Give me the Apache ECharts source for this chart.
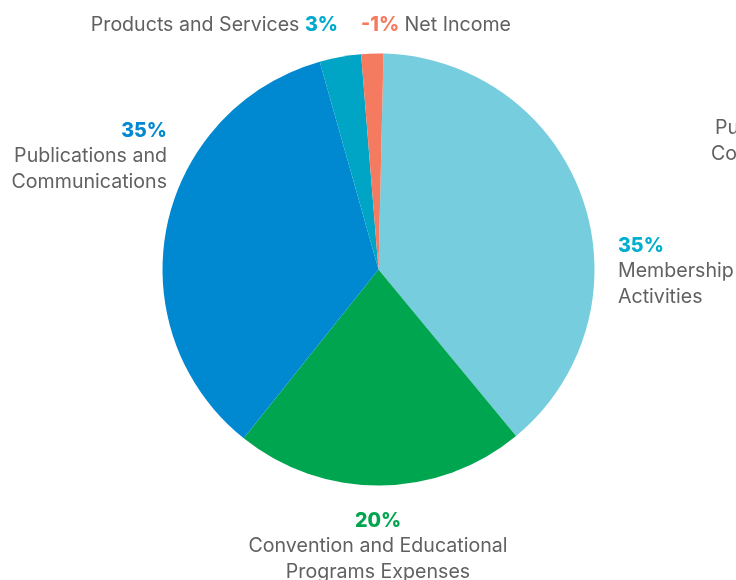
<!DOCTYPE html>
<html>
<head>
<meta charset="utf-8">
<script src="https://cdn.jsdelivr.net/npm/echarts@6/dist/echarts.min.js"></script>
<style>
html,body{margin:0;padding:0;background:#fff;}
#main{width:736px;height:580px;}
</style>
</head>
<body>
<div id="main"></div>
<script>
// Data (slice sizes; labels as printed)
var categories = ['Membership Activities', 'Convention and Educational Programs Expenses', 'Publications and Communications', 'Products and Services', 'Net Income'];
var sliceValues = [38.6, 21.7, 34.85, 3.1, 1.65];
var pctLabels = ['35%', '20%', '35%', '3%', '-1%'];
var sliceColors = ['#76cddd', '#00a64f', '#0088d1', '#00a5c5', '#f47a60'];
var pctColors = ['#00afd0', '#00a64f', '#0088d1', '#00a9ce', '#f47a60'];

var FONT = 'Inter';
var TXT = '#616161';
var FS = 19.6;

function labelText(i) {
  var p = '{p' + i + '|' + pctLabels[i] + '}';
  if (i === 0) return p + '\n{t|Membership}\n{t|Activities}';
  if (i === 1) return p + '\n{t|Convention and Educational}\n{t|Programs Expenses}';
  if (i === 2) return p + '\n{t|Publications and}\n{t|Communications}';
  if (i === 3) return '{t|Products and Services }' + p;
  return p + '{t| Net Income}';
}

var rich = { t: { fontFamily: FONT, fontSize: FS, color: TXT, lineHeight: 25.5 } };
for (var k = 0; k < pctLabels.length; k++) {
  rich['p' + k] = { fontFamily: FONT, fontSize: FS, fontWeight: 800, color: pctColors[k], lineHeight: 25.5 };
}

var layouts = [
  { x: 618, y: 233, align: 'left', verticalAlign: 'top' },
  { x: 378, y: 508, align: 'center', verticalAlign: 'top' },
  { x: 167, y: 118, align: 'right', verticalAlign: 'top' },
  { x: 338, y: 12, align: 'right', verticalAlign: 'top' },
  { x: 361, y: 12, align: 'left', verticalAlign: 'top' }
];

var data = categories.map(function (c, i) {
  return { name: c, value: sliceValues[i], itemStyle: { color: sliceColors[i] } };
});

var chart = echarts.init(document.getElementById('main'), null, { renderer: 'canvas' });
chart.setOption({
  backgroundColor: '#ffffff',
  animation: false,
  series: [{
    type: 'pie',
    center: [378.5, 269.5],
    radius: 216,
    startAngle: 88.67,
    clockwise: true,
    avoidLabelOverlap: false,
    silent: true,
    itemStyle: { borderWidth: 0 },
    label: {
      show: true,
      position: 'outside',
      formatter: function (p) { return labelText(p.dataIndex); },
      rich: rich
    },
    labelLine: { show: false },
    labelLayout: function (params) { return layouts[params.dataIndex]; },
    emphasis: { disabled: true },
    data: data
  }],
  graphic: [
    { type: 'text', left: 715, top: 118, style: { text: 'Publications and', fontFamily: FONT, fontSize: FS, fill: TXT } },
    { type: 'text', left: 711, top: 144, style: { text: 'Communications', fontFamily: FONT, fontSize: FS, fill: TXT } }
  ]
});
</script>
</body>
</html>
